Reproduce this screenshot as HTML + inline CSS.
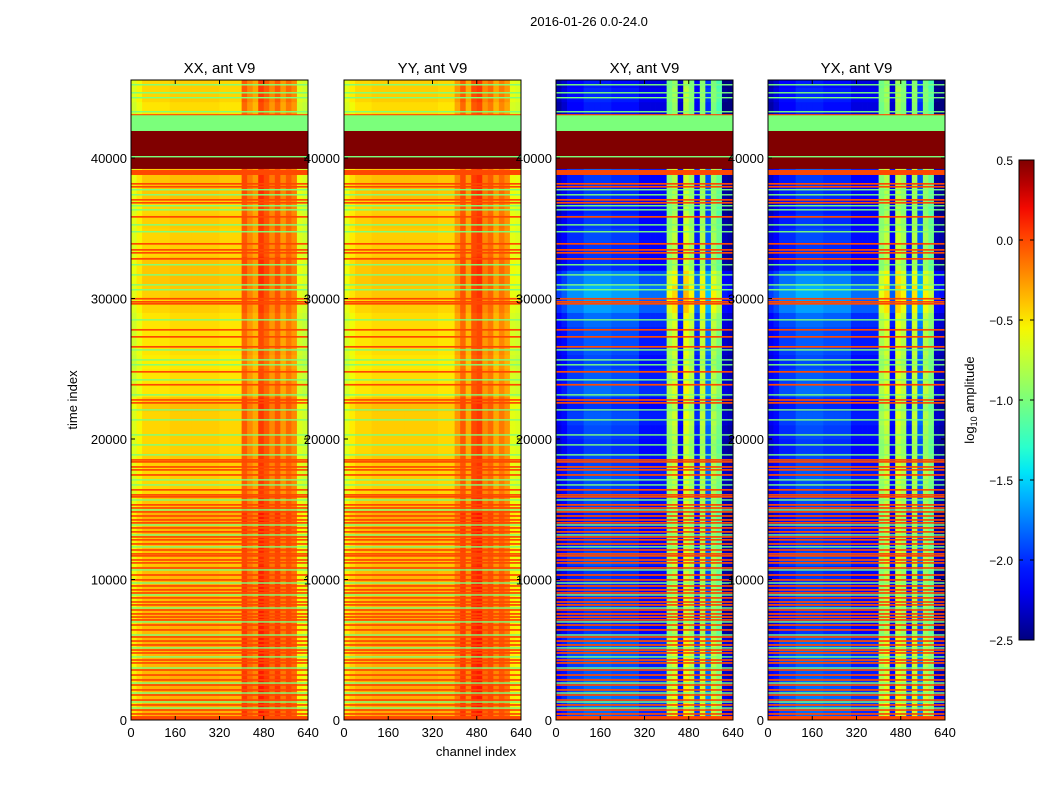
<!DOCTYPE html>
<html><head><meta charset="utf-8">
<style>
body{margin:0;background:#fff;font-family:"Liberation Sans","DejaVu Sans",sans-serif;}
#root{position:relative;width:1050px;height:800px;overflow:hidden;background:#fff;}
svg text{font-family:"Liberation Sans","DejaVu Sans",sans-serif;}
</style></head>
<body>
<div id="root">
<svg id="fig" width="1050" height="800" xmlns="http://www.w3.org/2000/svg"></svg>
</div>
<script>
// ---- data ----
const panelTitles = ["XX, ant V9","YY, ant V9","XY, ant V9","YX, ant V9"];
const xTicks = [0,160,320,480,640];
const yTicks = [0,10000,20000,30000,40000];
const cbTicks = [0.5,0.0,-0.5,-1.0,-1.5,-2.0,-2.5];
const cbTickLabels = ["0.5","0.0","\u22120.5","\u22121.0","\u22121.5","\u22122.0","\u22122.5"];
// channel profiles (32 bins of 20 channels)
const colXX = [-0.65,-0.55,-0.45,-0.45,-0.45,-0.45,-0.45,-0.42,-0.42,-0.42,-0.42,-0.42,-0.42,-0.42,-0.42,-0.42,-0.45,-0.45,-0.45,-0.45,-0.05,-0.2,-0.3,0.05,-0.05,-0.2,-0.05,-0.25,-0.1,-0.2,-0.65,-0.7];
const colYY = [-0.62,-0.52,-0.45,-0.45,-0.45,-0.42,-0.42,-0.42,-0.42,-0.42,-0.42,-0.42,-0.42,-0.42,-0.42,-0.42,-0.42,-0.45,-0.45,-0.45,-0.25,-0.05,-0.3,0.0,0.05,-0.2,-0.1,-0.3,-0.15,-0.25,-0.62,-0.65];
const colXY = [-2.2,-2.1,-1.95,-1.95,-1.95,-1.85,-1.85,-1.85,-1.85,-1.85,-1.9,-1.9,-1.9,-1.9,-1.9,-2.05,-2.05,-2.05,-2.05,-2.05,-0.85,-0.7,-2.1,-0.6,-0.8,-2.0,-0.75,-1.8,-0.8,-1.0,-2.3,-2.35];
const colYX = [-2.2,-2.1,-1.95,-1.95,-1.95,-1.85,-1.85,-1.85,-1.85,-1.85,-1.9,-1.9,-1.9,-1.9,-1.9,-2.05,-2.05,-2.05,-2.05,-2.05,-0.85,-0.7,-2.1,-0.65,-0.8,-2.0,-0.75,-1.8,-0.8,-1.0,-2.3,-2.35];
// per-1000 time bin offsets (46 bins)
const rowPar = [0.12,0.1,0.12,0.1,0.1,0.12,0.1,0.1,0.08,0.1,0.08,0.05,0.08,0.1,0.12,0.05,0,0,0.02,0,0,0,0.05,-0.05,-0.05,-0.08,-0.05,-0.05,-0.05,0,0.02,0.05,0.05,0,0,0.02,0,0.05,0.05,0,0,0,0,-0.05,0,0];
const rowCross = [0.05,0.1,0.05,0,0.05,0.05,-0.1,-0.1,-0.05,-0.1,-0.1,0,-0.1,-0.1,-0.15,-0.05,-0.05,0,-0.05,-0.1,-0.05,0,-0.1,0.05,0,-0.05,0,0,0.05,0.2,0.25,0.15,-0.1,-0.1,-0.05,-0.1,-0.15,-0.1,-0.1,0,0,0,0,-0.2,-0.15,-0.2];
// flagged blocks [t0,t1,value] (all panels)
const blockStart = [41920,39220,38790,0,43040];
const blockEnd   = [43060,41920,39150,280,43120];
const blockValue = [-1.0,0.5,0.0,0.0,0.0];
const orangeLines = [38160,37950,37020,36810,35810,33890,33460,33250,32820,29980,29760,29620,27770,27270,26560,24780,23860,22780,22570,18510,18370,18010,17800,17440,16380,16020,15880,15310,15090,14810,14520,14240,14030,13670,13390,13030,12820,12530,12100,11820,11680,11390,11180,10820,10320,9970,9540,9260,9040,8690,8400,8190,7830,7550,7330,7120,6760,6410,5910,5620,5340,4980,4770,4270,4060,3560,3200,2850,2490,2140,1780,1420,1070,710,430];
const greenLines = [45210,44640,44290,43290,40090,37740,37380,36600,36310,35240,34750,32400,31680,30970,30620,28480,26340,25630,25280,24210,23140,22070,21360,20290,19580,18870,17090,16730,15660,14950,13880,13170,12320,10680,9750,8900,7970,6980,6050,5130,4490,3700,2630,1920,1280,850];

// ---- layout ----
const NS="http://www.w3.org/2000/svg";
const svg=document.getElementById('fig');
const panelX=[131,344,556,768], PW=177, PT=80, PB=720, TMAX=45550, CMAX=640;
const VMIN=-2.5, VMAX=0.5;
function el(tag,attrs,parent){const e=document.createElementNS(NS,tag);for(const k in attrs)e.setAttribute(k,attrs[k]);(parent||svg).appendChild(e);return e;}
function interp(pts,x){for(let i=1;i<pts.length;i++){if(x<=pts[i][0]){const a=pts[i-1],b=pts[i];return a[1]+(b[1]-a[1])*(x-a[0])/(b[0]-a[0]);}}return pts[pts.length-1][1];}
function jet(v){let x=(v-VMIN)/(VMAX-VMIN);x=Math.max(0,Math.min(1,x));
 const r=interp([[0,0],[0.35,0],[0.66,1],[0.89,1],[1,0.5]],x);
 const g=interp([[0,0],[0.125,0],[0.375,1],[0.64,1],[0.91,0],[1,0]],x);
 const b=interp([[0,0.5],[0.11,1],[0.34,1],[0.65,0],[1,0]],x);
 return `rgb(${Math.round(r*255)},${Math.round(g*255)},${Math.round(b*255)})`;}
function yScale(t){return PB-(t/TMAX)*(PB-PT);}
function xScale(px,c){return px+(c/CMAX)*PW;}

const cols=[colXX,colYY,colXY,colYX];
const rows=[rowPar,rowPar,rowCross,rowCross];
for(let p=0;p<4;p++){
  const px=panelX[p];
  const g=el('g',{});
  
  
  for(let r=0;r<rows[p].length;r++){
    const t0=r*1000,t1=Math.min((r+1)*1000,TMAX);
    for(let c=0;c<cols[p].length;c++){
      const x0=xScale(px,c*20),x1=xScale(px,(c+1)*20);
      const cell=el('rect',{x:x0,y:yScale(t1),width:x1-x0+0.4,height:yScale(t0)-yScale(t1)+0.4,fill:jet(cols[p][c]+rows[p][r])},g);
      
      
    }
  }
  for(let i=0;i<blockStart.length;i++){
    const b=el('rect',{x:px,y:yScale(blockEnd[i]),width:PW,height:yScale(blockStart[i])-yScale(blockEnd[i]),fill:jet(blockValue[i])},g);
    
    
  }
  orangeLines.forEach(t=>{
    const l=el('rect',{x:px,y:yScale(t+60),width:PW,height:yScale(t-60)-yScale(t+60),fill:jet(0.0)},g);
    
    
  });
  greenLines.forEach(t=>{
    const l=el('rect',{x:px,y:yScale(t+50),width:PW,height:yScale(t-50)-yScale(t+50),fill:jet(-1.0)},g);
    
    
  });
  const fr=el('rect',{x:px,y:PT,width:PW,height:PB-PT,fill:'none',stroke:'#000','stroke-width':1});
  
  
  const tt=el('text',{x:px+PW/2,y:73,'text-anchor':'middle','font-size':15});
  tt.textContent=panelTitles[p];
  
  
  xTicks.forEach(v=>{
    const x=xScale(px,v);
    el('line',{x1:x,x2:x,y1:PB,y2:PB-4,stroke:'#000'});
    el('line',{x1:x,x2:x,y1:PT,y2:PT+4,stroke:'#000'});
    const tl=el('text',{x:x,y:PB+17,'text-anchor':'middle','font-size':13});
    tl.textContent=v;
    
    
  });
  yTicks.forEach(v=>{
    const y=yScale(v);
    el('line',{x1:px,x2:px+4,y1:y,y2:y,stroke:'#000'});
    el('line',{x1:px+PW,x2:px+PW-4,y1:y,y2:y,stroke:'#000'});
    const tl=el('text',{x:px-4,y:y+5,'text-anchor':'end','font-size':13});
    tl.textContent=v;
    
    
  });
}
// titles
let t=el('text',{x:589,y:26,'text-anchor':'middle','font-size':13});t.textContent='2016-01-26 0.0-24.0';


t=el('text',{x:476,y:756,'text-anchor':'middle','font-size':13});t.textContent='channel index';


t=el('text',{x:77,y:400,'text-anchor':'middle','font-size':13,transform:'rotate(-90 77 400)'});t.textContent='time index';


// colorbar
const CBX=1019,CBW=15,CBT=160,CBB=640;
const defs=el('defs',{});
const lg=el('linearGradient',{id:'jetg',x1:0,y1:1,x2:0,y2:0},defs);
for(let i=0;i<=20;i++){const v=VMIN+(VMAX-VMIN)*i/20;el('stop',{offset:(i/20),'stop-color':jet(v)},lg);}
const cb=el('rect',{x:CBX,y:CBT,width:CBW,height:CBB-CBT,fill:'url(#jetg)',stroke:'#000','stroke-width':1});


function cbY(v){return CBB-(v-VMIN)/(VMAX-VMIN)*(CBB-CBT);}
cbTicks.forEach((v,i)=>{
  const y=cbY(v);
  el('line',{x1:CBX,x2:CBX+4,y1:y,y2:y,stroke:'#000'});
  el('line',{x1:CBX+CBW,x2:CBX+CBW-4,y1:y,y2:y,stroke:'#000'});
  const tl=el('text',{x:1013,y:y+5,'text-anchor':'end','font-size':12});
  tl.textContent=cbTickLabels[i];
  
  
});
t=el('text',{x:974,y:400,'text-anchor':'middle','font-size':13,transform:'rotate(-90 974 400)'});
t.innerHTML='log<tspan font-size="9" dy="3">10</tspan><tspan dy="-3"> amplitude</tspan>';


</script>
</body></html>
